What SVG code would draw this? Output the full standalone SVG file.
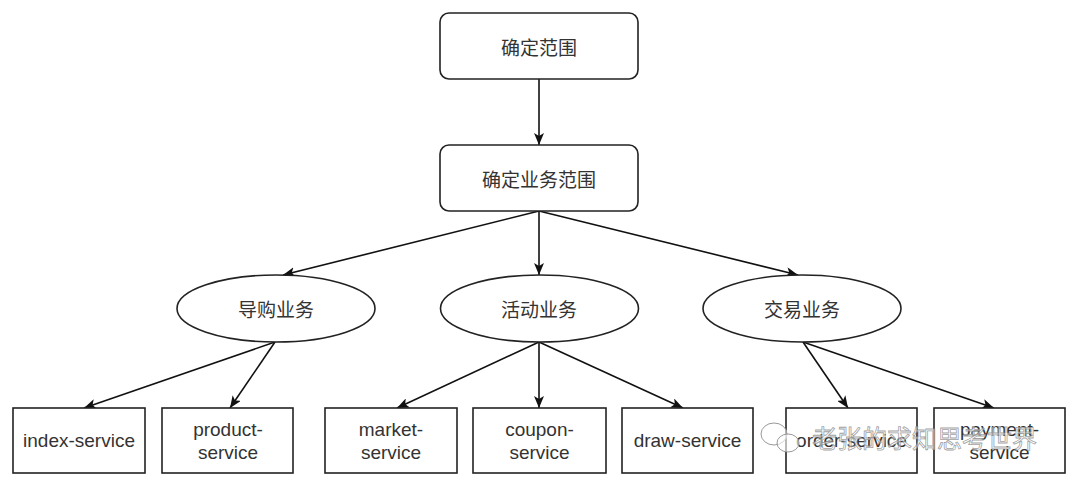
<svg xmlns="http://www.w3.org/2000/svg" width="1080" height="488" viewBox="0 0 1080 488">
<defs>
<marker id="arr" viewBox="0 0 12 10" refX="12" refY="5" markerWidth="12" markerHeight="10" markerUnits="userSpaceOnUse" orient="auto">
<path d="M0,0 L12,5 L0,10 L3,5 Z" fill="#111"/>
</marker>
</defs>
<style>
.box{fill:#fff;stroke:#222;stroke-width:1.6}
.cn{font-family:"Noto Sans CJK SC","Liberation Sans",sans-serif;font-size:19px;fill:#333;text-anchor:middle;dominant-baseline:central}
.en{font-family:"Liberation Sans",Arial,sans-serif;font-size:19px;fill:#333;text-anchor:middle}
.edge{fill:none;stroke:#111;stroke-width:1.6;marker-end:url(#arr)}
.wm{font-family:"Noto Sans CJK SC",sans-serif;font-size:25px;fill:#fff;fill-opacity:0.55;stroke:#888;stroke-width:0.8;stroke-opacity:0.8}
</style>
<rect width="1080" height="488" fill="#fff"/>
<g id="connectors">
<line class="edge" x1="539" y1="79" x2="539" y2="145"/>
<line class="edge" x1="539" y1="211" x2="283" y2="275"/>
<line class="edge" x1="539" y1="211" x2="539" y2="275"/>
<line class="edge" x1="539" y1="211" x2="798" y2="275"/>
<line class="edge" x1="275" y1="342" x2="84" y2="408"/>
<line class="edge" x1="275" y1="342" x2="230" y2="408"/>
<line class="edge" x1="539" y1="342" x2="397" y2="408"/>
<line class="edge" x1="539" y1="342" x2="539" y2="408"/>
<line class="edge" x1="539" y1="342" x2="683" y2="408"/>
<line class="edge" x1="803" y1="342" x2="848" y2="408"/>
<line class="edge" x1="803" y1="342" x2="994" y2="408"/>
</g>
<g id="n-scope">
<rect class="box" x="440" y="13" width="198" height="66" rx="9"/>
<text class="cn" x="539" y="46">确定范围</text>
</g>
<g id="n-bizscope">
<rect class="box" x="440" y="145" width="198" height="66" rx="9"/>
<text class="cn" x="539" y="178">确定业务范围</text>
</g>
<g id="n-guide">
<ellipse class="box" cx="276" cy="308.5" rx="99" ry="33.5"/>
<text class="cn" x="276" y="308">导购业务</text>
</g>
<g id="n-activity">
<ellipse class="box" cx="539.5" cy="308.5" rx="99" ry="33.5"/>
<text class="cn" x="539" y="308">活动业务</text>
</g>
<g id="n-trade">
<ellipse class="box" cx="802" cy="308.5" rx="99" ry="33.5"/>
<text class="cn" x="802" y="308">交易业务</text>
</g>
<g id="n-index">
<rect class="box" x="13" y="408" width="132" height="65"/>
<text class="en" x="79" y="447">index-service</text>
</g>
<g id="n-product">
<rect class="box" x="162" y="408" width="131" height="65"/>
<text class="en" x="228" y="436">product-</text>
<text class="en" x="228" y="459">service</text>
</g>
<g id="n-market">
<rect class="box" x="325" y="408" width="132" height="65"/>
<text class="en" x="391" y="436">market-</text>
<text class="en" x="391" y="459">service</text>
</g>
<g id="n-coupon">
<rect class="box" x="473" y="408" width="133" height="65"/>
<text class="en" x="539.5" y="436">coupon-</text>
<text class="en" x="539.5" y="459">service</text>
</g>
<g id="n-draw">
<rect class="box" x="622" y="408" width="131" height="65"/>
<text class="en" x="687.5" y="447">draw-service</text>
</g>
<g id="n-order">
<rect class="box" x="786" y="408" width="131" height="65"/>
<text class="en" x="851.5" y="447">order-service</text>
</g>
<g id="n-payment">
<rect class="box" x="934" y="408" width="131" height="65"/>
<text class="en" x="999.5" y="436">payment-</text>
<text class="en" x="999.5" y="459">service</text>
</g>
<g id="watermark">
<ellipse cx="774" cy="434" rx="13" ry="11" fill="#fff" fill-opacity="0.6" stroke="#999" stroke-width="1"/>
<ellipse cx="788" cy="443" rx="11" ry="9" fill="#fff" fill-opacity="0.6" stroke="#999" stroke-width="1"/>
<text class="wm" x="812" y="448">老张的求知思考世界</text>
</g>
</svg>
